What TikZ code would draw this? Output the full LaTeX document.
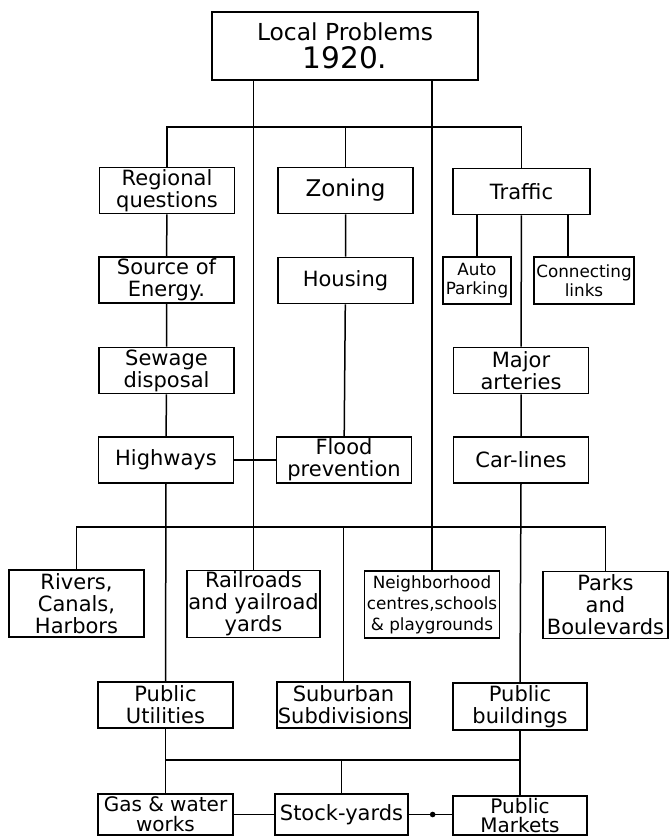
\documentclass[tikz,border=0pt]{standalone}
\usepackage{fontspec}
\setmainfont{DejaVu Sans}
\usetikzlibrary{calc}
\tikzset{
  box/.style={rectangle, draw=black, line width=0.85pt, fill=white, inner sep=0pt,
              minimum width=67.5pt, minimum height=23pt, align=center,
              font=\fontsize{10.5}{11}\selectfont},
  smallbox/.style={box, font=\fontsize{8.4}{9.6}\selectfont},
  tallbox/.style={box, minimum height=33.5pt},
  lowbox/.style={box, minimum height=20.5pt, font=\fontsize{10}{9.8}\selectfont},
  link/.style={draw=black, line width=0.75pt},
}

\begin{document}
\begin{tikzpicture}[x=0.5pt, y=-0.5pt]
  \useasboundingbox (0,0) rectangle (671,837);
  % heading
  \node[box, minimum width=133pt, minimum height=34pt] (top) at (345,46)
    {\fontsize{11.7}{14}\selectfont Local Problems\\[2pt]\fontsize{14.8}{15}\selectfont 1920.};
  % first column
  \node[box] (regional) at (167,190.5) {Regional\\questions};
  \node[box] (energy)   at (166.5,280) {Source of\\Energy.};
  \node[box] (sewage)   at (166.5,370.5) {Sewage\\disposal};
  \node[box] (highways) at (166,460) {Highways};
  % second column
  \node[box] (zoning)  at (345.5,190.5) {\fontsize{11.5}{12}\selectfont Zoning};
  \node[box] (housing) at (345.5,280.5) {Housing};
  \node[box] (flood)   at (344,460) {Flood\\prevention};
  % third column
  \node[box, minimum width=68.5pt] (traffic) at (521.5,191.5) {Traffic};
  \node[smallbox, minimum width=34pt, minimum height=23.5pt] (auto) at (477,280.5) {Auto\\Parking};
  \node[smallbox, minimum width=50pt, minimum height=23.5pt] (connect) at (584,280.5) {Connecting\\links};
  \node[box] (arteries) at (521,370.5) {Major\\arteries};
  \node[box] (carlines) at (521,460) {Car-lines};
  % middle row
  \node[tallbox] (rivers)    at (76.5,603.5) {Rivers,\\Canals,\\Harbors};
  \node[tallbox, minimum width=66.5pt] (railroads) at (253.5,604) {Railroads\\and yailroad\\yards};
  \node[tallbox, font=\fontsize{8.4}{10.5}\selectfont] (neighbor) at (432,604.5)
    {Neighborhood\\centres,schools\\\& playgrounds};
  \node[tallbox, minimum width=62.5pt] (parks) at (605.5,605) {Parks\\and\\Boulevards};
  % lower rows
  \node[box] (utilities) at (165.5,705) {Public\\Utilities};
  \node[box, minimum width=66.5pt] (suburban) at (343.5,705) {Suburban\\Subdivisions};
  \node[box, minimum width=67pt, minimum height=23.5pt] (buildings) at (520,706.5) {Public\\buildings};
  \node[lowbox] (gas) at (165.5,814.5) {Gas \& water\\works};
  \node[lowbox, minimum width=66.5pt] (stock) at (341.5,814.5) {\fontsize{10.5}{11}\selectfont Stock-yards};
  \node[lowbox, minimum width=67pt, minimum height=19.5pt] (markets) at (520,815.5) {Public\\Markets};

  \coordinate (bus1) at (345,127);
  \coordinate (bus2) at (343,527);
  \coordinate (bus3) at (343,760);

  % long lines from the heading
  \draw[link] (top.south -| railroads.north) -- (railroads.north);
  \draw[link] (top.south -| neighbor.north) -- (neighbor.north);

  \draw[link] (regional.north) |- (bus1) -| (traffic.north);
  \draw[link] (zoning.north |- bus1) -- (zoning.north);
  \draw[link] (regional) -- (energy) -- (sewage) -- (highways);
  \draw[link] (zoning) -- (housing) -- (flood);
  \draw[link] (highways) -- (flood);

  \coordinate (cl) at ($(connect.north)+(-16,0)$);
  \draw[link] (traffic.south -| auto.north) -- (auto.north);
  \draw[link] (cl |- traffic.south) -- (cl);
  \draw[link] (traffic) -- (arteries) -- (carlines);

  \draw[link] (rivers.north) |- (bus2) -| (parks.north);
  \draw[link] (highways.south) -- (utilities.north);
  \draw[link] (carlines.south) -- (buildings.north);
  \draw[link] (suburban.north |- bus2) -- (suburban.north);

  \draw[link] (utilities.south) -- (gas.north);
  \draw[link] (buildings.south) -- (markets.north);
  \draw[link] (gas.north |- bus3) -- (markets.north |- bus3);
  \draw[link] (stock.north |- bus3) -- (stock.north);
  \draw[link] (gas.east |- stock.west) -- (stock.west);
  \draw[link] (stock.east) -- (stock.east -| markets.west);
  \fill ($(stock.east)!0.55!(stock.east -| markets.west)$) circle (1.4pt);
\end{tikzpicture}
\end{document}
